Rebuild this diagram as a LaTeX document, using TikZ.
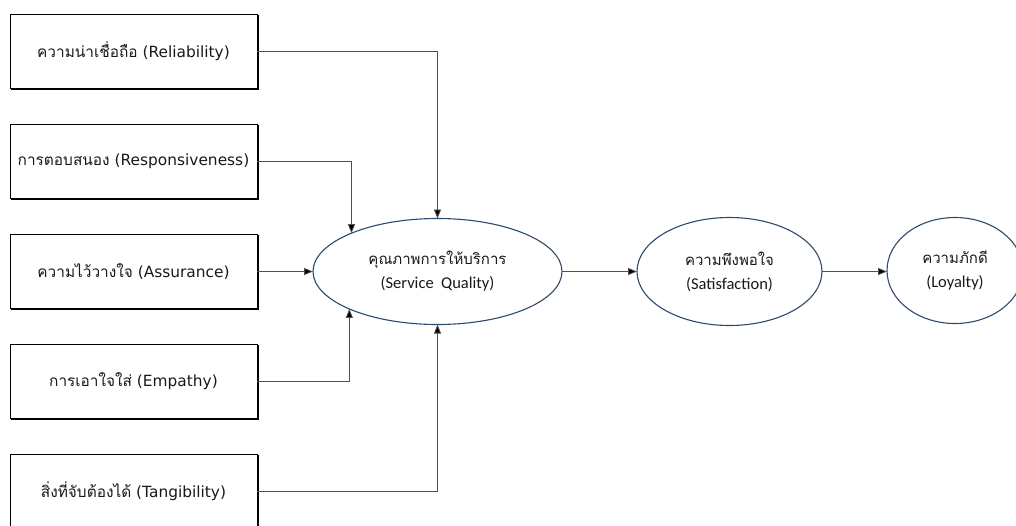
\documentclass[tikz,border=0pt]{standalone}
\usepackage{fontspec}
\setmainfont{DejaVu Sans}
\newfontfamily\thaifont[Script=Thai]{Loma}
\newfontfamily\calfont{Carlito}
\usetikzlibrary{shapes.geometric,shadows,arrows.meta}
\definecolor{ellblue}{HTML}{2F4A6E}
\definecolor{linegray}{HTML}{505050}
\newcommand{\ellthai}[1]{{\fontsize{15}{24}\selectfont\thaifont #1}}
\newcommand{\elllat}[1]{{\fontsize{16.5}{24}\selectfont\calfont #1}}
\begin{document}
\begin{tikzpicture}[x=1pt,y=-1pt,
  factor/.style={draw=black, line width=1pt, fill=white, rectangle,
    minimum width=247pt, minimum height=74pt, inner sep=0pt, outer sep=0pt,
    font=\fontsize{15.4}{18}\selectfont, text=black!90,
    copy shadow={shadow xshift=1.3pt, shadow yshift=-1.3pt, draw=black, fill=black}},
  construct/.style={draw=ellblue, line width=1.1pt, ellipse, inner sep=0pt, outer sep=0pt,
    align=center, font=\fontsize{15}{24}\selectfont, text=black!90},
  arr/.style={draw=linegray, line width=0.8pt, -{Triangle[length=9pt,width=7pt,fill=black]}}
]
\useasboundingbox (0,0) rectangle (1016,525);
\fill[white] (0,0) rectangle (1016,525);

\node[factor] (b1) at (133.5,51) {{\thaifont ความน่าเชื่อถือ} (Reliability)};
\node[factor] (b2) at (133.5,161.5) {{\thaifont การตอบสนอง} (Responsiveness)};
\node[factor] (b3) at (133.5,271.5) {{\thaifont ความไว้วางใจ} (Assurance)};
\node[factor] (b4) at (133.5,381.5) {{\thaifont การเอาใจใส่} (Empathy)};
\node[factor] (b5) at (133.5,491.5) {{\thaifont สิ่งที่จับต้องได้} (Tangibility)};

\node[construct, minimum width=249pt, minimum height=106pt] (e1) at (437.5,271.5)
  {\ellthai{คุณภาพการให้บริการ}\\\elllat{(Service\ \ Quality)}};
\node[construct, minimum width=185pt, minimum height=108pt] (e2) at (729.5,271.5)
  {\ellthai{ความพึงพอใจ}\\\elllat{(Satisfaction)}};
\node[construct, minimum width=136pt, minimum height=106pt] (e3) at (955,270.5)
  {\ellthai{ความภักดี}\\\elllat{(Loyalty)}};

\draw[arr] (b1.east) -| (e1.north);
\draw[arr] (b2.east) -| (e1.156.7);
\draw[arr] (b3.east) -- (e1.west);
\draw[arr] (b4.east) -| (e1.203.3);
\draw[arr] (b5.east) -| (e1.south);
\draw[arr] (e1.east) -- (e2.west);
\draw[arr] (e2.east) -- (e3.west |- e2.east);
\end{tikzpicture}
\end{document}
